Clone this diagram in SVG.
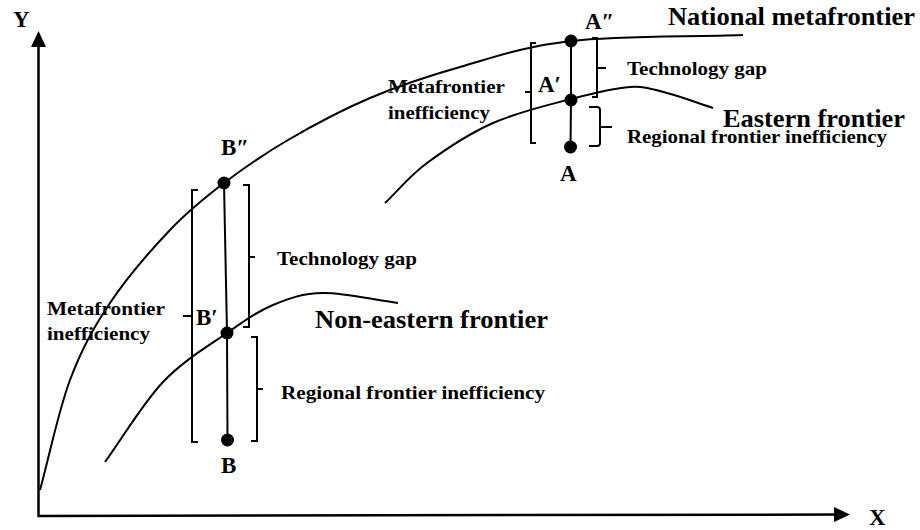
<svg xmlns="http://www.w3.org/2000/svg" width="920" height="530" viewBox="0 0 920 530">
<style>
text{font-family:"Liberation Serif","Times New Roman","DejaVu Serif",serif;font-weight:bold;fill:#000}
.big{font-size:26px}
.sm{font-size:19px}
.pt{font-size:23px}
.ln{fill:none;stroke:#000;stroke-width:2}
.ax{fill:none;stroke:#000;stroke-width:2.5}
.br{fill:none;stroke:#000;stroke-width:2}
.dot{fill:#000}
</style>
<defs>
<marker id="arr" viewBox="0 0 16 16" refX="8" refY="8" markerWidth="16" markerHeight="16" markerUnits="userSpaceOnUse" orient="auto-start-reverse">
<path d="M0,0.5 L16,8 L0,15.5 z" fill="#000"/>
</marker>
</defs>
<g id="axes">
<path class="ax" d="M38.5,39 L38.5,516 L842,514.5" marker-start="url(#arr)" marker-end="url(#arr)"/>
<text class="pt" x="13" y="27">Y</text>
<text class="pt" x="869" y="525">X</text>
</g>
<g id="frontiers">
<path id="national" class="ln" d="M40,490 C50,453.3 58.3,411.2 70,380 C81.7,348.8 93.3,328 110,303 C126.7,278 151,250 170,230 C189,210 204.3,198 224,183 C243.7,168 263.7,154.2 288,140 C312.3,125.8 341.3,110.2 370,98 C398.7,85.8 426.5,76.5 460,67 C493.5,57.5 523.8,46.3 571,41 C618.2,35.7 685.7,37 743,35"/>
<path id="eastern" class="ln" d="M385,203 C399,189.7 409,176.3 427,163 C445,149.7 469,133.7 493,123 C517,112.3 548.2,105 571,99 C593.8,93 614,88 630,87 C646,86 653.2,89.5 667,93 C680.8,96.5 697.7,103 713,108"/>
<path id="noneastern" class="ln" d="M105,462 C124.3,435.3 142.7,403.5 163,382 C183.3,360.5 208.7,345.8 227,333 C245.3,320.2 257,311.7 273,305 C289,298.3 302.2,293.3 323,293 C343.8,292.7 373,299.7 398,303"/>
<text class="big" x="668" y="25" textLength="247" lengthAdjust="spacingAndGlyphs">National metafrontier</text>
<text class="big" x="723" y="127" textLength="182" lengthAdjust="spacingAndGlyphs">Eastern frontier</text>
<text class="big" x="315" y="328" textLength="233" lengthAdjust="spacingAndGlyphs">Non-eastern frontier</text>
</g>
<g id="connectors">
<line class="ln" x1="224" y1="183" x2="227" y2="333"/>
<line class="ln" x1="227" y1="333" x2="227.5" y2="440"/>
<line class="ln" x1="571" y1="41" x2="571" y2="100"/>
<line class="ln" x1="571" y1="100" x2="570.5" y2="147"/>
</g>
<g id="B2"><circle class="dot" cx="224" cy="183" r="6.5"/><text class="pt" x="221" y="155">B″</text></g>
<g id="B1"><circle class="dot" cx="227" cy="333" r="6.5"/><text class="pt" x="196" y="325">B′</text></g>
<g id="B"><circle class="dot" cx="227.5" cy="440" r="6.5"/><text class="pt" x="221" y="473">B</text></g>
<g id="A2"><circle class="dot" cx="571" cy="41" r="6.5"/><text class="pt" x="585" y="29">A″</text></g>
<g id="A1"><circle class="dot" cx="571" cy="100" r="6.5"/><text class="pt" x="538" y="92">A′</text></g>
<g id="A"><circle class="dot" cx="570.5" cy="147" r="6.5"/><text class="pt" x="560" y="181">A</text></g>
<g id="bracket-meta-B">
<path class="br" d="M198,190 L192,190 L192,442 L198,442 M192,316 L183,316"/>
<text class="sm" x="47" y="315" textLength="118" lengthAdjust="spacingAndGlyphs">Metafrontier</text>
<text class="sm" x="47" y="340" textLength="103" lengthAdjust="spacingAndGlyphs">inefficiency</text>
</g>
<g id="bracket-gap-B">
<path class="br" d="M243,185 L249,185 L249,327 L243,327 M249,257 L255,257"/>
<text class="sm" x="277" y="265" textLength="140" lengthAdjust="spacingAndGlyphs">Technology gap</text>
</g>
<g id="bracket-reg-B">
<path class="br" d="M251,337 L257,337 L257,441 L251,441 M257,389 L263,389"/>
<text class="sm" x="281" y="399" textLength="264" lengthAdjust="spacingAndGlyphs">Regional frontier inefficiency</text>
</g>
<g id="bracket-meta-A">
<path class="br" d="M536,43 L531,43 L531,143 L536,143 M531,92 L525,92"/>
<text class="sm" x="388" y="93" textLength="117" lengthAdjust="spacingAndGlyphs">Metafrontier</text>
<text class="sm" x="388" y="119" textLength="102" lengthAdjust="spacingAndGlyphs">inefficiency</text>
</g>
<g id="bracket-gap-A">
<path class="br" d="M592,38 L597,38 L597,97 L592,97 M597,68 L606,68"/>
<text class="sm" x="627" y="75" textLength="140" lengthAdjust="spacingAndGlyphs">Technology gap</text>
</g>
<g id="bracket-reg-A">
<path class="br" d="M589,107 L597,107 Q600,107 600,110 L600,143 Q600,146 597,146 L589,146 M600,127 L612,127"/>
<text class="sm" x="627" y="143" textLength="260" lengthAdjust="spacingAndGlyphs">Regional frontier inefficiency</text>
</g>
</svg>
